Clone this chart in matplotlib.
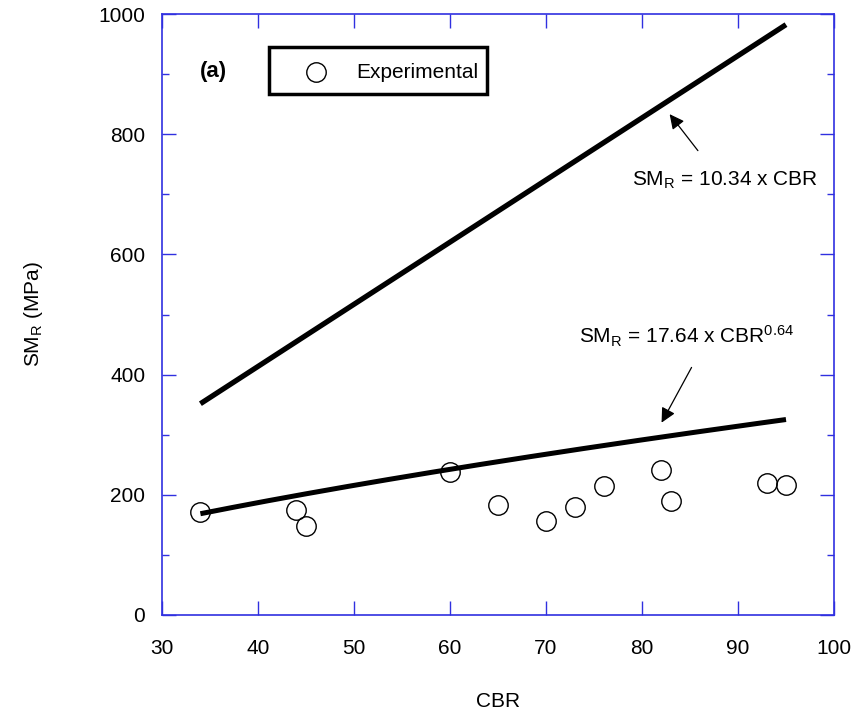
import numpy as np
import matplotlib
matplotlib.use("Agg")
import matplotlib.pyplot as plt
from matplotlib.ticker import MultipleLocator
from matplotlib.patches import Rectangle
from matplotlib.lines import Line2D

plt.rcParams['font.family'] = ['Liberation Sans', 'DejaVu Sans']
plt.rcParams['mathtext.fontset'] = 'custom'
plt.rcParams['mathtext.rm'] = 'Liberation Sans'
plt.rcParams['mathtext.it'] = 'Liberation Sans:italic'
plt.rcParams['mathtext.bf'] = 'Liberation Sans:bold'

# Experimental data
cbr_exp = [34, 44, 45, 60, 65, 70, 73, 76, 82, 83, 93, 95]
smr_exp = [172, 175, 148, 238, 183, 157, 180, 215, 241, 190, 220, 217]

# Model curves (from annotated equations)
cbr_range = [34, 95]
lin_coef = 10.34
pow_coef = 17.64
pow_exp = 0.64

FS = 15

fig = plt.figure(figsize=(8.57, 7.19), dpi=100)
ax = fig.add_axes([162/857, 1 - 615/719, (834-162)/857, (615-14)/719])

x = np.linspace(cbr_range[0], cbr_range[1], 200)
ax.plot(x, lin_coef * x, color='black', lw=3.8, solid_capstyle='butt')
ax.plot(x, pow_coef * x ** pow_exp, color='black', lw=3.6, solid_capstyle='butt')
ax.plot(cbr_exp, smr_exp, 'o', mfc='none', mec='black', mew=1.0, ms=14, zorder=5)

ax.set_xlim(30, 100)
ax.set_ylim(0, 1000)
ax.xaxis.set_major_locator(MultipleLocator(10))
ax.yaxis.set_major_locator(MultipleLocator(200))
ax.yaxis.set_minor_locator(MultipleLocator(100))
ax.tick_params(which='both', direction='in', top=True, right=True, color='#3030e0',
               labelsize=FS)
ax.tick_params(axis='y', pad=12)
ax.tick_params(axis='x', pad=17)
ax.tick_params(which='major', length=10, width=1)
ax.tick_params(which='minor', length=5, width=1)
for s in ax.spines.values():
    s.set_color('#3030e0')
    s.set_linewidth(1.2)

ax.set_xlabel('CBR', fontsize=FS)
ax.xaxis.set_label_coords(0.5, -0.128)
ax.set_ylabel('SM$_\\mathregular{R}$ (MPa)', fontsize=FS)
ax.yaxis.set_label_coords(-0.174, 0.5)

# panel label and legend box
fig.text(200/857, 1-72/719, '(a)', fontsize=16, fontweight='bold', va='center', ha='left')
fig.patches.append(Rectangle((269/857, 1-94/719), 218/857, 47/719, transform=fig.transFigure,
                             fill=False, ec='black', lw=2.5))
fig.lines.append(Line2D([316/857], [1-72/719], transform=fig.transFigure,
                        marker='o', mfc='none', mec='black', ms=14, mew=1.0))
fig.text(356/857, 1-72/719, 'Experimental', fontsize=FS, va='center', ha='left')

ax.annotate('', xy=(82.7, 837), xytext=(86.0, 769),
            arrowprops=dict(arrowstyle='-|>', color='black', lw=0.9, mutation_scale=22))
ax.text(98.3, 715, 'SM$_\\mathregular{R}$ = 10.34 x CBR', fontsize=FS, ha='right', va='baseline')

ax.annotate('', xy=(81.9, 316), xytext=(85.3, 416),
            arrowprops=dict(arrowstyle='-|>', color='black', lw=0.9, mutation_scale=22))
ax.text(73.4, 452, 'SM$_\\mathregular{R}$ = 17.64 x CBR$^\\mathregular{0.64}$', fontsize=FS,
        ha='left', va='baseline')

fig.savefig('out.png', dpi=100)
